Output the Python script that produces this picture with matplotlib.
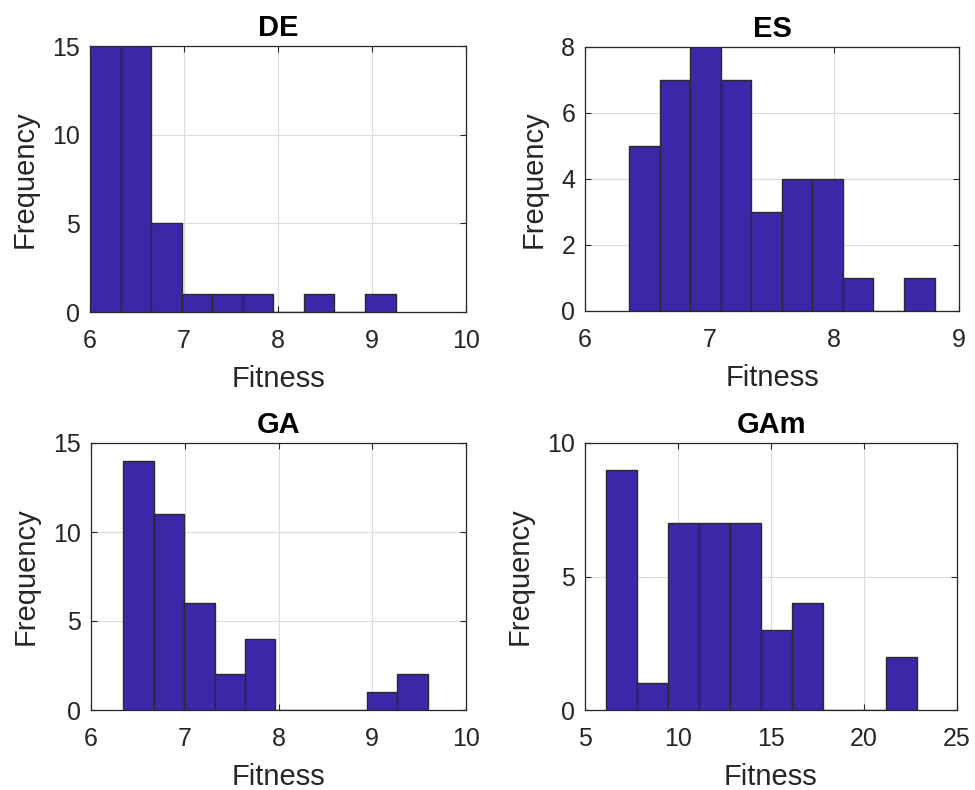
import matplotlib.pyplot as plt
import numpy as np

plt.rcParams['font.family'] = ['Liberation Sans', 'DejaVu Sans']

titles = ["DE", "ES", "GA", "GAm"]

de_counts = [15, 15, 5, 1, 1, 1, 0, 1, 0, 1]
es_counts = [5, 7, 8, 7, 3, 4, 4, 1, 0, 1]
ga_counts = [14, 11, 6, 2, 4, 0, 0, 0, 1, 2]
gam_counts = [9, 1, 7, 7, 7, 3, 4, 0, 0, 2]

# bin range (first edge, last edge) for 10 equal bins
de_range = (6.0, 9.25)
es_range = (6.353, 8.804)
ga_range = (6.345, 9.59)
gam_range = (6.13, 22.83)

xlims = [(6, 10), (6, 9), (6, 10), (5, 25)]
ylims = [(0, 15), (0, 8), (0, 15), (0, 10)]
xticks = [[6, 7, 8, 9, 10], [6, 7, 8, 9], [6, 7, 8, 9, 10], [5, 10, 15, 20, 25]]
yticks = [[0, 5, 10, 15], [0, 2, 4, 6, 8], [0, 5, 10, 15], [0, 5, 10]]

counts = [de_counts, es_counts, ga_counts, gam_counts]
ranges = [de_range, es_range, ga_range, gam_range]

# axes boxes in pixels: left, top, right, bottom
boxes = [(90, 46, 466, 312), (585, 47, 959, 311),
         (91, 443, 466, 710), (585, 443, 957, 710)]

W, H = 975, 790
fig = plt.figure(figsize=(W / 100, H / 100), dpi=100)

bar_col = '#3E26A8'
dark = '#262626'

for i in range(4):
    l, t, r, b = boxes[i]
    ax = fig.add_axes([l / W, 1 - b / H, (r - l) / W, (b - t) / H])
    edges = np.linspace(ranges[i][0], ranges[i][1], len(counts[i]) + 1)
    ax.bar(edges[:-1], counts[i], width=np.diff(edges), align='edge',
           color=bar_col, edgecolor='#2a2a2a', linewidth=1.0, zorder=3)
    ax.set_xlim(*xlims[i])
    ax.set_ylim(*ylims[i])
    ax.set_xticks(xticks[i])
    ax.set_yticks(yticks[i])
    ax.grid(True, color='#dcdcdc', linewidth=0.8, zorder=0)
    ax.set_axisbelow(True)
    ax.tick_params(direction='in', top=True, right=True, length=4,
                   labelsize=18, colors=dark, width=0.8)
    ax.tick_params(axis='x', pad=12)
    ax.tick_params(axis='y', pad=7)
    for s in ax.spines.values():
        s.set_color(dark)
        s.set_linewidth(0.9)
    ax.set_title(titles[i], fontsize=21, fontweight='bold', pad=7)
    ax.set_xlabel("Fitness", fontsize=21, color=dark, labelpad=9)
    ax.set_ylabel("Frequency", fontsize=21, color=dark, labelpad=10)

plt.savefig("out.png", dpi=100)
